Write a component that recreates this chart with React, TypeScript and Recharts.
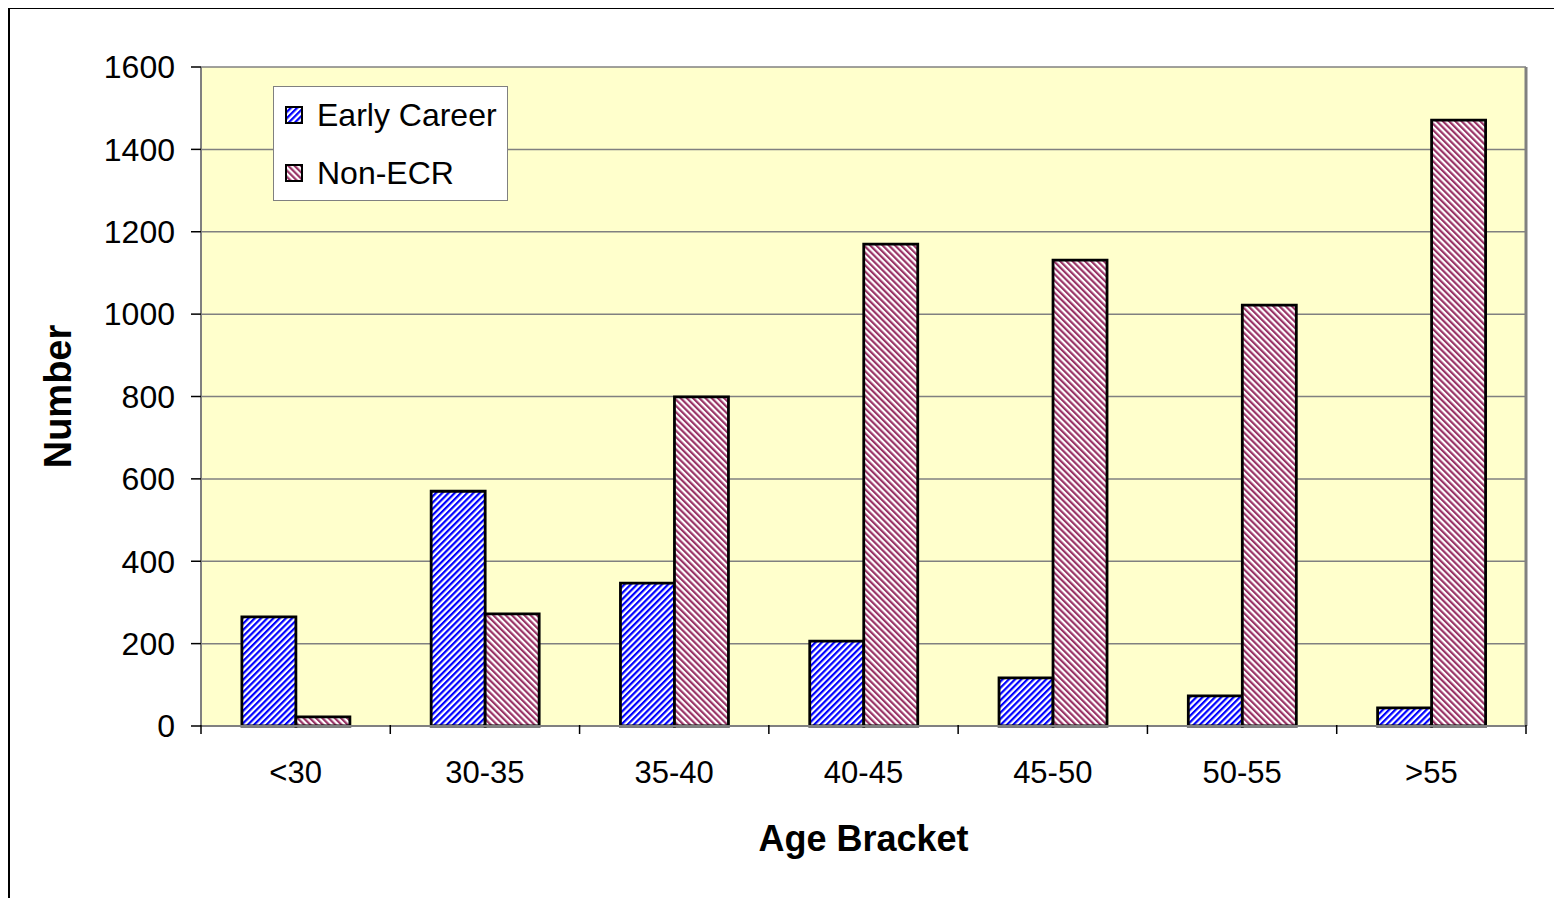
import { BarChart, Bar, XAxis, YAxis, CartesianGrid, Legend, Label } from 'recharts'

const categories = ['<30', '30-35', '35-40', '40-45', '45-50', '50-55', '>55']
const earlyCareer = [265, 570, 347, 206, 117, 73, 44]
const nonEcr = [22, 272, 799, 1170, 1131, 1022, 1471]
const yTicks = [0, 200, 400, 600, 800, 1000, 1200, 1400, 1600]

const data = categories.map((c, i) => ({ bracket: c, early: earlyCareer[i], non: nonEcr[i] }))

const FONT = 'Arial, "Liberation Sans", sans-serif'

const CHART_W = 1548
const CHART_H = 878
const MARGIN = { top: 58, right: 31, bottom: 0, left: 0 }
const Y_W = 191
const RIGHT_W = 1
const BAND = (CHART_W - MARGIN.left - MARGIN.right - Y_W - RIGHT_W) / categories.length

// category label plus the Excel-style tick marks on the category boundaries
function XTick(props: any) {
  const { x, y, payload, index } = props
  const last = index === categories.length - 1
  return (
    <g>
      <line x1={x - BAND / 2} x2={x - BAND / 2} y1={y - 1} y2={y + 8} stroke="#000" strokeWidth={1.5} />
      {last && <line x1={x + BAND / 2} x2={x + BAND / 2} y1={y - 1} y2={y + 8} stroke="#000" strokeWidth={1.5} />}
      <text x={x} y={y} dy={57} textAnchor="middle" fontSize={31} fontFamily={FONT} fill="#000">
        {payload.value}
      </text>
    </g>
  )
}

function LegendBox() {
  const items = [
    { label: 'Early Career', fill: 'url(#hatchBlue)' },
    { label: 'Non-ECR', fill: 'url(#hatchPink)' },
  ]
  return (
    <div
      style={{
        width: 233,
        height: 113,
        background: '#fff',
        border: '1px solid #808080',
        fontFamily: FONT,
        fontSize: 32,
        position: 'relative',
      }}
    >
      {items.map((it, i) => (
        <div
          key={it.label}
          style={{ position: 'absolute', left: 11, top: 9 + i * 58, height: 38, display: 'flex', alignItems: 'center' }}
        >
          <svg width={18} height={18} style={{ marginRight: 14 }}>
            <rect x={1} y={1} width={16} height={16} fill={it.fill} stroke="#000" strokeWidth={2} />
          </svg>
          <span>{it.label}</span>
        </div>
      ))}
    </div>
  )
}

export default function App() {
  return (
    <div
      style={{
        marginTop: -1,
        width: 1550,
        height: 891,
        borderTop: '2px solid #000',
        borderLeft: '2px solid #000',
        boxSizing: 'border-box',
        overflow: 'hidden',
        background: '#fff',
      }}
    >
      <style>{'html, body { overflow: hidden; }'}</style>
      <BarChart
        width={CHART_W}
        height={CHART_H}
        data={data}
        margin={MARGIN}
        barCategoryGap="21.6%"
        barGap={0}
      >
        <defs>
          <pattern id="hatchBlue" patternUnits="userSpaceOnUse" width={4.4} height={4.4} patternTransform="rotate(45)">
            <rect width={4.4} height={4.4} fill="#fff" />
            <rect width={2.2} height={4.4} fill="#0000ff" />
          </pattern>
          <pattern id="hatchPink" patternUnits="userSpaceOnUse" width={4.4} height={4.4} patternTransform="rotate(-45)">
            <rect width={4.4} height={4.4} fill="#fff" />
            <rect width={2.2} height={4.4} fill="#993366" />
          </pattern>
        </defs>
        <CartesianGrid vertical={false} fill="#ffffcc" stroke="#808080" strokeWidth={1.5} />
        <XAxis
          dataKey="bracket"
          tick={<XTick />}
          tickLine={false}
          tickSize={0}
          tickMargin={0}
          axisLine={{ stroke: '#808080', strokeWidth: 2 }}
          height={161}
          interval={0}
        >
          <Label
            value="Age Bracket"
            position="insideBottom"
            offset={36}
            style={{ fontFamily: FONT, fontSize: 36, fontWeight: 'bold', fill: '#000' }}
          />
        </XAxis>
        <YAxis
          domain={[0, 1600]}
          ticks={yTicks}
          width={Y_W}
          tickSize={10}
          tickMargin={16}
          tick={{ fontFamily: FONT, fontSize: 32, fill: '#000' }}
          tickLine={{ stroke: '#000', strokeWidth: 1.5 }}
          axisLine={{ stroke: '#808080', strokeWidth: 2 }}
        >
          <Label
            value="Number"
            position="insideLeft"
            angle={-90}
            offset={48}
            style={{ fontFamily: FONT, fontSize: 38, fontWeight: 'bold', fill: '#000', textAnchor: 'middle' }}
          />
        </YAxis>
        <YAxis
          yAxisId="right"
          orientation="right"
          domain={[0, 1600]}
          tick={false}
          tickLine={false}
          width={RIGHT_W}
          axisLine={{ stroke: '#808080', strokeWidth: 3 }}
        />
        <Legend
          layout="horizontal"
          verticalAlign="middle"
          content={() => <LegendBox />}
          wrapperStyle={{ left: 263, top: 77, width: 235, height: 115 }}
        />
        <Bar dataKey="early" name="Early Career" fill="url(#hatchBlue)" stroke="#000" strokeWidth={2.8} isAnimationActive={false} />
        <Bar dataKey="non" name="Non-ECR" fill="url(#hatchPink)" stroke="#000" strokeWidth={2.8} isAnimationActive={false} />
      </BarChart>
    </div>
  )
}
